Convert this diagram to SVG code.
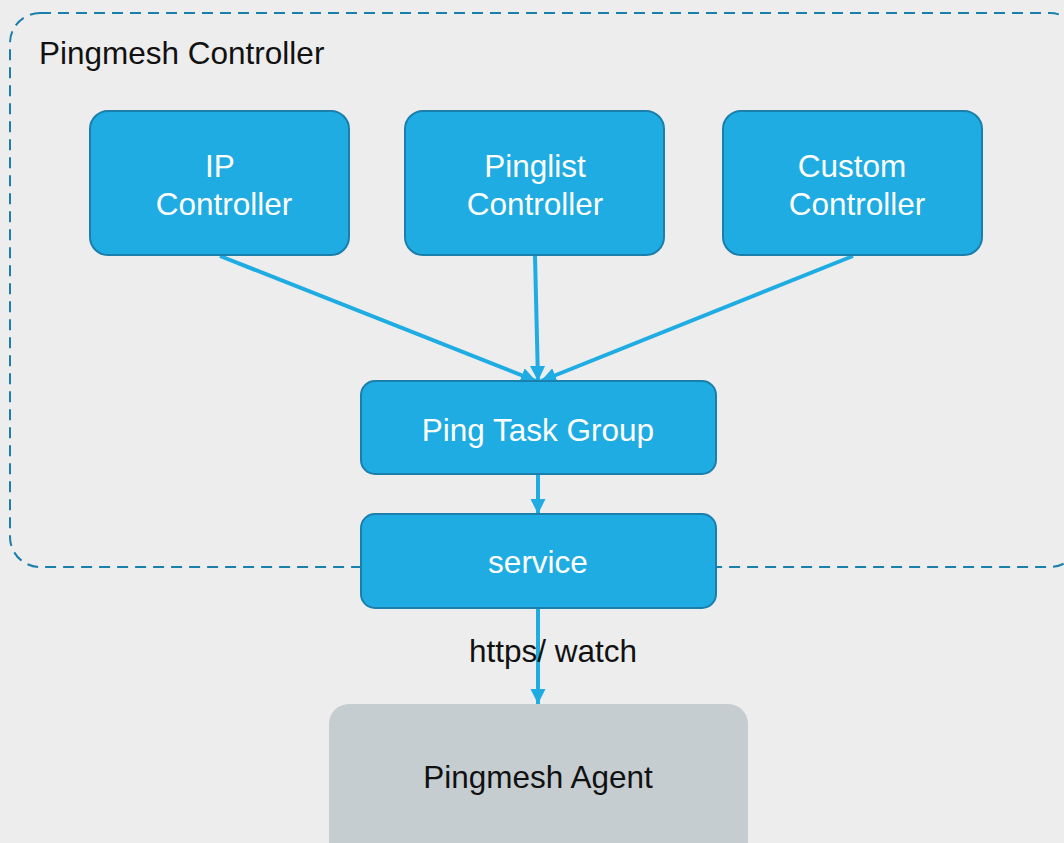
<svg xmlns="http://www.w3.org/2000/svg" width="1064" height="843" viewBox="0 0 1064 843">
  <defs>
    <marker id="arrow" viewBox="0 0 10 10" refX="10" refY="5" markerWidth="3.8" markerHeight="3.8" orient="auto" markerUnits="strokeWidth">
      <path d="M0,0 L10,5 L0,10 z" fill="#1eace3"/>
    </marker>
    <style>
      .box { fill: #1eace3; stroke: #1a7fab; stroke-width: 2; }
      .agent { fill: #c5cdd1; }
      .lbl { font-family: "Liberation Sans", Arial, sans-serif; font-size: 31.5px; text-anchor: middle; fill: #ffffff; }
      .dark { fill: #111111; }
      .edge { stroke: #1eace3; stroke-width: 4; fill: none; marker-end: url(#arrow); }
    </style>
  </defs>

  <rect width="1064" height="843" fill="#ededed"/>

  <!-- controller boundary -->
  <g id="controller-boundary">
    <rect x="10" y="13" width="1070" height="554" rx="30" fill="none" stroke="#1a7fab" stroke-width="2" stroke-dasharray="11 7"/>
    <text x="39" y="64" class="lbl dark" style="text-anchor:start">Pingmesh Controller</text>
  </g>

  <!-- connectors -->
  <g id="connectors">
    <line class="edge" x1="220" y1="256" x2="536" y2="381"/>
    <line class="edge" x1="535" y1="256" x2="538" y2="381"/>
    <line class="edge" x1="853" y1="256" x2="541" y2="381"/>
    <line class="edge" x1="538" y1="474" x2="538" y2="514"/>
    <line class="edge" x1="538" y1="608" x2="538" y2="704"/>
  </g>

  <g id="ip-controller">
    <rect class="box" x="90" y="111" width="259" height="144" rx="18"/>
    <text class="lbl" x="220" y="177">IP</text>
    <text class="lbl" x="224" y="215">Controller</text>
  </g>

  <g id="pinglist-controller">
    <rect class="box" x="405" y="111" width="259" height="144" rx="18"/>
    <text class="lbl" x="535" y="177">Pinglist</text>
    <text class="lbl" x="535" y="215">Controller</text>
  </g>

  <g id="custom-controller">
    <rect class="box" x="723" y="111" width="259" height="144" rx="18"/>
    <text class="lbl" x="852" y="177">Custom</text>
    <text class="lbl" x="857" y="215">Controller</text>
  </g>

  <g id="ping-task-group">
    <rect class="box" x="361" y="381" width="355" height="93" rx="14"/>
    <text class="lbl" x="538" y="441">Ping Task Group</text>
  </g>

  <g id="service">
    <rect class="box" x="361" y="514" width="355" height="94" rx="14"/>
    <text class="lbl" x="538" y="573">service</text>
  </g>

  <text class="lbl dark" x="553" y="662">https/ watch</text>

  <g id="pingmesh-agent">
    <rect class="agent" x="329" y="704" width="419" height="160" rx="20"/>
    <text class="lbl dark" x="538" y="788">Pingmesh Agent</text>
  </g>
</svg>
